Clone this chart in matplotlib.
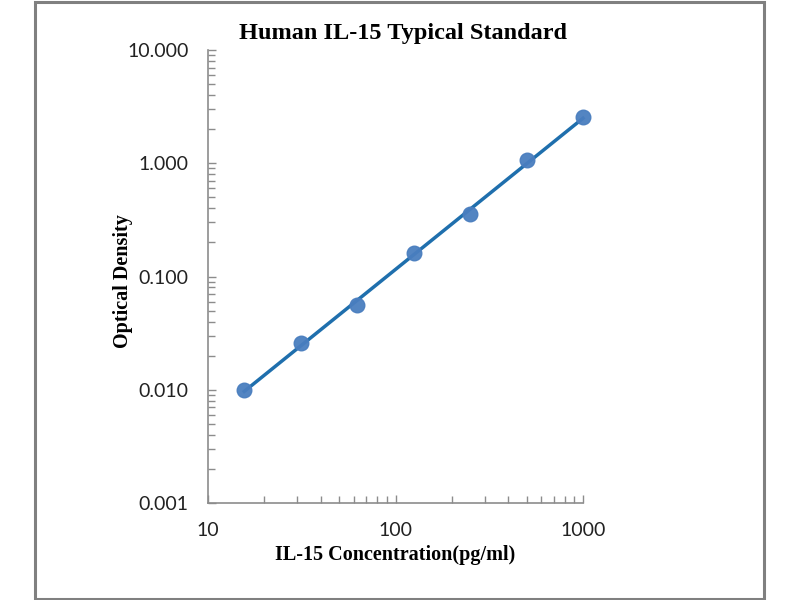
import numpy as np
import matplotlib.pyplot as plt
from matplotlib.patches import Rectangle
from matplotlib.ticker import FixedLocator, LogLocator, NullFormatter

# standard curve data
conc = [15.6, 31.25, 62.5, 125, 250, 500, 1000]
od = [0.0100, 0.0257, 0.0557, 0.160, 0.355, 1.06, 2.55]

x_ticks = [10, 100, 1000]
x_labels = ['10', '100', '1000']
y_ticks = [0.001, 0.01, 0.1, 1, 10]
y_labels = ['0.001', '0.010', '0.100', '1.000', '10.000']

# power trendline (linear fit in log-log)
lx = np.log10(conc)
ly = np.log10(od)
k, b = np.polyfit(lx, ly, 1)
fit_x = np.array([conc[0], conc[-1]])
fit_y = 10 ** (k * np.log10(fit_x) + b)

fig = plt.figure(figsize=(8, 6), dpi=100)
fig.patches.append(Rectangle((35 / 800, 1 / 600), 729 / 800, 597 / 600,
                             transform=fig.transFigure, fill=False,
                             edgecolor='#808080', linewidth=2.2))

ax = fig.add_axes([208 / 800, 97 / 600, 375 / 800, 453 / 600])
ax.set_xscale('log')
ax.set_yscale('log')
ax.set_xlim(10, 1000)
ax.set_ylim(0.001, 10)

ax.plot(fit_x, fit_y, '-', color='#1f6fad', linewidth=2.5, zorder=2,
        clip_on=False)
ax.plot(conc, od, 'o', color='#4a7ebf', markersize=10.5, alpha=0.95,
        zorder=3, clip_on=False)

for s in ['top', 'right']:
    ax.spines[s].set_visible(False)
for s in ['left', 'bottom']:
    ax.spines[s].set_color('#8c8c8c')
    ax.spines[s].set_linewidth(1.2)

ax.xaxis.set_major_locator(FixedLocator(x_ticks))
ax.set_xticklabels(x_labels)
ax.yaxis.set_major_locator(FixedLocator(y_ticks))
ax.set_yticklabels(y_labels)
ax.xaxis.set_minor_locator(LogLocator(base=10, subs=np.arange(2, 10)))
ax.yaxis.set_minor_locator(LogLocator(base=10, subs=np.arange(2, 10)))
ax.xaxis.set_minor_formatter(NullFormatter())
ax.yaxis.set_minor_formatter(NullFormatter())

ax.tick_params(which='both', direction='in', color='#8c8c8c', width=1.0)
ax.tick_params(which='major', length=6)
ax.tick_params(which='minor', length=5)
ax.tick_params(axis='y', which='major', pad=14)
ax.tick_params(axis='x', which='major', pad=14)
for lab in ax.get_xticklabels() + ax.get_yticklabels():
    lab.set_family('Lato')
    lab.set_fontsize(14)
    lab.set_color('#222222')

ax.set_title('Human IL-15 Typical Standard', family='Liberation Serif',
             fontweight='bold', fontsize=17.5, pad=8, x=0.52)
ax.set_xlabel('IL-15 Concentration(pg/ml)', family='Liberation Serif',
              fontweight='bold', fontsize=14.5, labelpad=4)
ax.set_ylabel('Optical Density', family='Liberation Serif',
              fontweight='bold', fontsize=14.5)
ax.yaxis.set_label_coords(-0.2, 0.49)

fig.savefig('out.png', dpi=100)
